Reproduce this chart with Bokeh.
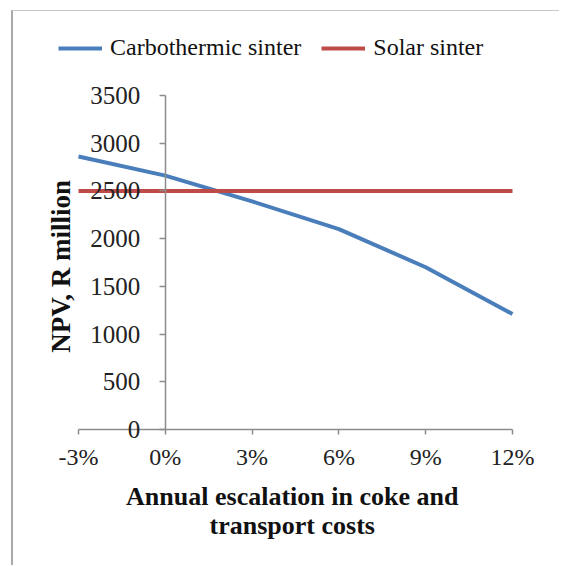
import math
from bokeh.plotting import figure
from bokeh.models import (FixedTicker, PrintfTickFormatter, Legend, LegendItem, Label)
from bokeh.embed import file_html
from bokeh.resources import INLINE

# ---- data ----
escalation = [-3, 0, 3, 6, 9, 12]           # annual escalation, %
carbothermic = [2860, 2660, 2390, 2100, 1700, 1210]   # NPV, R million
solar = [2500, 2500, 2500, 2500, 2500, 2500]          # NPV, R million
x_ticks = [-3, 0, 3, 6, 9, 12]
y_ticks = [0, 500, 1000, 1500, 2000, 2500, 3000, 3500]

FONT = "Liberation Serif"
AXIS_COLOR = "#8c8c8c"

# the plotting frame fills the canvas; axes cross at 0 and are limited by bounds
p = figure(width=548, height=555, output_backend="svg", toolbar_location=None,
           x_range=(-5.247, 13.694), y_range=(-1436, 4380),
           min_border_left=0, min_border_right=0, min_border_top=0, min_border_bottom=0)
p.styles = {"margin-left": "11px", "margin-top": "10px",
            "border-left": "2px solid #a9a9a9", "border-top": "1px solid #c8c8c8"}
p.outline_line_color = None
p.grid.visible = False
p.background_fill_color = "white"
p.border_fill_color = "white"

r_carbo = p.line(escalation, carbothermic, line_color="#4a7ebb", line_width=4)
r_solar = p.line(escalation, solar, line_color="#be4b48", line_width=4)

# x axis crossing at NPV = 0
xa = p.xaxis[0]
xa.fixed_location = 0
xa.bounds = (x_ticks[0], x_ticks[-1])
xa.ticker = FixedTicker(ticks=x_ticks)
xa.formatter = PrintfTickFormatter(format="%d%%")
xa.minor_tick_line_color = None
xa.major_tick_in = 0
xa.major_tick_out = 5
xa.axis_line_color = AXIS_COLOR
xa.major_tick_line_color = AXIS_COLOR
xa.axis_line_width = 1.5
xa.major_tick_line_width = 1.5
xa.major_label_text_font = FONT
xa.major_label_text_font_size = "24px"
xa.major_label_text_color = "#222222"
xa.major_label_standoff = 10
xa.axis_label = "Annual escalation in  coke and\ntransport  costs"
xa.axis_label_text_font = FONT
xa.axis_label_text_font_size = "26px"
xa.axis_label_text_font_style = "bold"
xa.axis_label_text_color = "#111111"
xa.axis_label_text_line_height = 1.0
xa.axis_label_standoff = 8

# y axis crossing at 0%
ya = p.yaxis[0]
ya.fixed_location = 0
ya.bounds = (y_ticks[0], y_ticks[-1])
ya.ticker = FixedTicker(ticks=y_ticks)
ya.minor_tick_line_color = None
ya.major_tick_in = 0
ya.major_tick_out = 6
ya.axis_line_color = AXIS_COLOR
ya.major_tick_line_color = AXIS_COLOR
ya.axis_line_width = 1.5
ya.major_tick_line_width = 1.5
ya.major_label_text_font = FONT
ya.major_label_text_font_size = "25px"
ya.major_label_text_color = "#222222"
ya.major_label_standoff = 19

# y-axis title, centred on the value axis, left of the -3% end
ytitle = Label(x=x_ticks[0], y=y_ticks[-1] / 2, x_offset=-18, y_offset=-4,
               text="NPV, R million", angle=math.pi / 2, text_align="center",
               text_baseline="middle", text_font=FONT, text_font_size="27px",
               text_font_style="bold", text_color="#111111")
p.add_layout(ytitle)

legend = Legend(items=[LegendItem(label="Carbothermic sinter", renderers=[r_carbo]),
                       LegendItem(label="Solar sinter", renderers=[r_solar])],
                orientation="horizontal", location=(45, 505),
                label_text_font=FONT, label_text_font_size="24px", label_text_color="#111111",
                glyph_width=44, glyph_height=24, label_standoff=8, spacing=20,
                padding=0, margin=0, border_line_color=None, background_fill_alpha=0)
p.add_layout(legend, "center")

open("out.html", "w").write(file_html(p, INLINE))
